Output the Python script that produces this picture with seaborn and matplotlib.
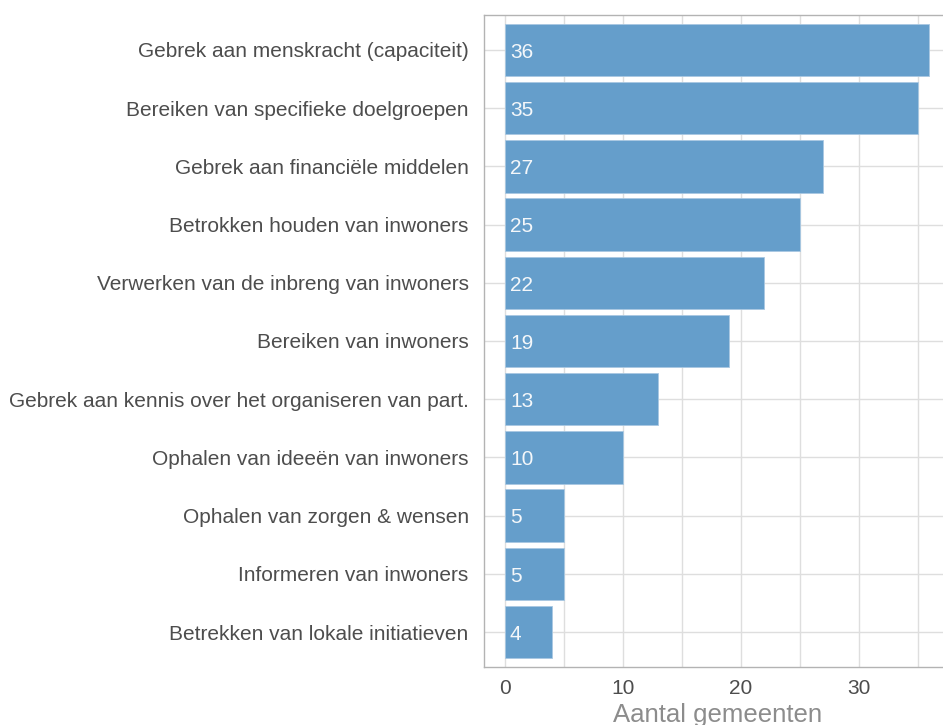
import matplotlib
matplotlib.use("Agg")
import matplotlib.pyplot as plt
import seaborn as sns
import pandas as pd
from matplotlib.ticker import MultipleLocator

# problems reported by municipalities, sorted from most to least
categories = [
    "Gebrek aan menskracht (capaciteit)",
    "Bereiken van specifieke doelgroepen",
    "Gebrek aan financiële middelen",
    "Betrokken houden van inwoners",
    "Verwerken van de inbreng van inwoners",
    "Bereiken van inwoners",
    "Gebrek aan kennis over het organiseren van part.",
    "Ophalen van ideeën van inwoners",
    "Ophalen van zorgen & wensen",
    "Informeren van inwoners",
    "Betrekken van lokale initiatieven",
]
counts = [36, 35, 27, 25, 22, 19, 13, 10, 5, 5, 4]

df = pd.DataFrame({"categorie": categories, "aantal": counts})

sns.set_theme(style="white")
plt.rcParams["font.family"] = ["Liberation Sans", "DejaVu Sans"]

fig = plt.figure(figsize=(9.43, 7.25), dpi=100)
# panel runs past the right edge of the image, like the original crop
ax = fig.add_axes([484 / 943, 1 - 667 / 725, (950.6 - 484) / 943, (667 - 15) / 725])

sns.barplot(data=df, x="aantal", y="categorie", orient="h", color="#659ECB",
            saturation=1, width=0.9, edgecolor="#A9C8E2", linewidth=0.6, ax=ax, zorder=3)

# value labels inside the bars
for i, v in enumerate(counts):
    ax.text(0.4, i + 0.04, str(v), color="#F4F7FA", fontsize=15, va="center", ha="left", zorder=4)

ax.set_xlim(-1.8, 37.8)
ax.set_ylim(len(categories) - 0.4, -0.6)
ax.xaxis.set_major_locator(MultipleLocator(10))
ax.xaxis.set_minor_locator(MultipleLocator(5))

ax.grid(True, which="major", axis="both", color="#DEDEDE", linewidth=1.0, zorder=0)
ax.grid(True, which="minor", axis="x", color="#DEDEDE", linewidth=1.0, zorder=0)
ax.set_axisbelow(True)

for side in ["left", "bottom", "top"]:
    ax.spines[side].set_color("#B3B3B3")
    ax.spines[side].set_linewidth(1.0)
ax.spines["right"].set_visible(False)

ax.tick_params(axis="both", which="major", length=4.5, width=0.8, color="#B3B3B3",
               labelsize=15, labelcolor="#4D4D4D")
ax.tick_params(axis="y", pad=6.5)
ax.tick_params(axis="x", pad=4.5)
ax.tick_params(axis="x", which="minor", length=0)

ax.set_ylabel("")
ax.set_xlabel("Aantal gemeenten", fontsize=18.5, color="#8C8C8C", labelpad=3)

fig.savefig("out.png", dpi=100)
